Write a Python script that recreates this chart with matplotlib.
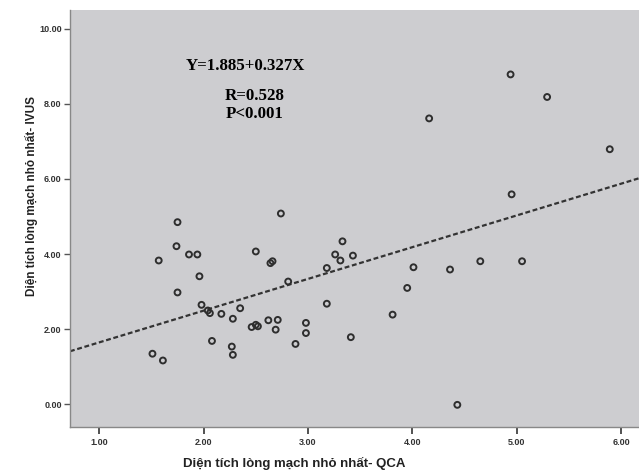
import numpy as np
import matplotlib.pyplot as plt

# minimal lumen area, QCA (x) vs IVUS (y)
qca = [1.57, 1.75, 1.74, 1.86, 1.94, 1.96, 1.75, 1.98, 2.04, 2.06,
       2.17, 2.28, 2.35, 2.08, 2.27, 2.28, 1.51, 1.61, 2.50, 2.74,
       2.66, 2.64, 2.81, 3.18, 3.33, 3.26, 3.31, 3.43, 3.18, 3.41,
       2.88, 2.98, 2.98, 2.46, 2.50, 2.52, 2.71, 2.69, 2.62, 4.16,
       4.95, 4.01, 4.36, 4.65, 5.05, 3.95, 3.81, 4.43, 4.94, 5.29,
       5.89]
ivus = [3.83, 4.85, 4.21, 3.99, 3.99, 3.41, 2.98, 2.65, 2.50, 2.43,
        2.41, 2.28, 2.56, 1.69, 1.54, 1.32, 1.35, 1.17, 4.07, 5.08,
        3.81, 3.76, 3.27, 3.63, 4.34, 3.99, 3.83, 3.96, 2.68, 1.79,
        1.61, 1.90, 2.17, 2.06, 2.12, 2.08, 2.25, 1.99, 2.24, 7.61,
        5.59, 3.65, 3.59, 3.81, 3.81, 3.10, 2.39, -0.01, 8.78, 8.18,
        6.79]

x_ticks = [1, 2, 3, 4, 5, 6]
y_ticks = [0, 2, 4, 6, 8, 10]

plt.rcParams['font.family'] = ['Liberation Sans', 'DejaVu Sans']

fig = plt.figure(figsize=(6.39, 4.72), dpi=100)
ax = fig.add_axes([0.1095, 0.0953, 0.8905, 0.884])
ax.set_facecolor('#cdcdd0')

ax.scatter(qca, ivus, s=18, facecolors='none', edgecolors='#2e2e2e',
           linewidths=1.4, zorder=3)

# least squares fit line
slope, icpt = np.polyfit(qca, ivus, 1)
xs = np.array([0.72, 6.17])
ax.plot(xs, icpt + slope * xs, color='#333333', lw=1.6,
        linestyle=(0, (2.2, 1.2)), zorder=2)

ax.set_xlim(0.72, 6.17)
ax.set_ylim(-0.6, 10.5)
ax.set_xticks(x_ticks)
ax.set_yticks(y_ticks)
ax.set_xticklabels([f'{v:.2f}' for v in x_ticks], fontsize=6.5,
                   fontweight='bold', color='#333333')
ax.set_yticklabels([f'{v:.2f}' for v in y_ticks], fontsize=6.5,
                   fontweight='bold', color='#333333')
ax.tick_params(axis='x', length=5, width=1.2, color='#333333', pad=3)
ax.tick_params(axis='y', length=4, width=1.0, color='#555555', pad=2)
for side in ['top', 'right']:
    ax.spines[side].set_visible(False)
for side in ['left', 'bottom']:
    ax.spines[side].set_color('#888888')
    ax.spines[side].set_linewidth(1.0)

ax.set_xlabel('Diện tích lòng mạch nhỏ nhất- QCA', fontsize=9.5,
              fontweight='bold', color='#222222')
ax.set_ylabel('Diện tích lòng mạch nhỏ nhất- IVUS', fontsize=8.5,
              fontweight='bold', color='#222222')
ax.xaxis.set_label_coords(0.395, -0.072)
ax.yaxis.set_label_coords(-0.056, 0.554)

serif = ['Liberation Serif', 'DejaVu Serif']
W, H = 639, 472
for txt, px, py in [('Y=1.885+0.327X', 245, 66),
                    ('R=0.528', 255, 96),
                    ('P<0.001', 255, 114)]:
    fig.text(px / W, 1 - py / H, txt, family=serif, fontsize=12.2,
             fontweight='bold', ha='center', va='center')

fig.savefig('out.png', dpi=100)
